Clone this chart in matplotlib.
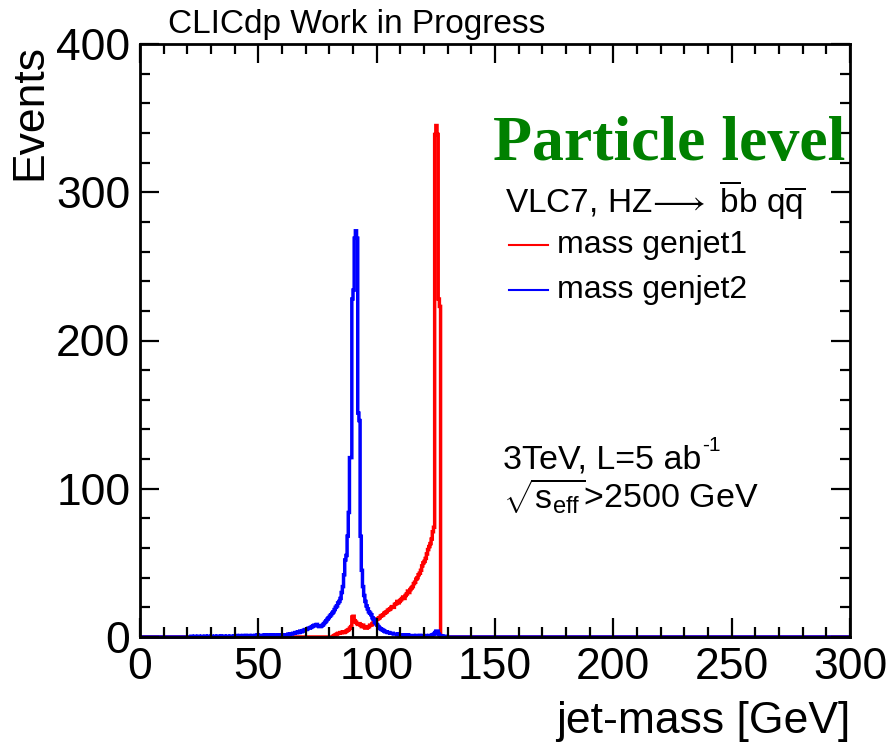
import numpy as np
import matplotlib
matplotlib.use("Agg")
import matplotlib.pyplot as plt
from matplotlib.ticker import MultipleLocator

plt.rcParams["font.family"] = ["Liberation Sans", "DejaVu Sans"]
plt.rcParams["mathtext.fontset"] = "custom"
plt.rcParams["mathtext.rm"] = "Liberation Sans"
plt.rcParams["mathtext.it"] = "Liberation Sans:italic"

# histogram binning: 0.5 GeV bins from 0 to 300 GeV
bin_width = 0.5
x_min, x_max = 0, 300

# mass genjet2 (blue), bins starting at 20 GeV
blue_start = 20.0
blue_counts = [
    0, 0, 0, 0.5, 0, 0, 0.5, 0, 0, 0.5, 0, 0, 0.5, 0, 0, 0.5, 0, 0.5, 0, 0,
    0.5, 0, 0, 0.5, 0, 0.5, 0.5, 0, 0.5, 0, 0.5, 0.5, 0, 0.5, 0.5, 0, 0.5, 0.5, 0, 0.5,
    0.5, 1, 0.5, 0.5, 1, 0.5, 0.5, 1, 0.5, 1, 0.5, 1, 1, 0.5, 1, 1, 0.5, 1, 1, 1.5,
    1, 1, 0.5, 1, 1, 1.5, 1, 1, 1.5, 1, 1, 1.5, 1, 1, 1.5, 1, 1, 1.5, 1, 1,
    1, 1, 1.5, 1, 1.5, 2, 1.5, 2, 2, 2.5,
    2.5, 3, 3, 3.5, 3, 4, 3.5, 4, 4.5, 5,
    5, 5.5, 6, 6, 6.5, 7, 7.5, 8, 8, 8.5,
    7.5, 7, 7, 7.5, 8, 9, 10, 11, 12, 13,
    14, 15, 16, 17, 18.5, 20, 21, 23, 24, 26,
    30, 34, 42, 52, 55, 68, 84, 121, 121, 228,
    234, 269, 274, 269, 151, 146, 68, 45, 34, 28,
    24, 21, 19, 17, 16, 15, 13, 12, 10, 9,
    8, 7, 6, 5.5, 5, 4.5, 4, 3.5, 3.5, 3,
    3, 2.5, 2.5, 2.5, 2, 2, 2, 1.5, 2, 1.5,
    1.5, 1.5, 1, 1.5, 1, 1, 1.5, 1, 1, 1,
    1, 1, 0.5, 1, 1, 0.5, 1, 0.5, 1, 0.5,
    0.5, 1, 0.5, 0.5, 1, 0.5, 1, 1.5, 2, 3,
    4, 4, 2, 1, 0.5, 0.5, 0, 0.5, 0, 0,
]

# mass genjet1 (red), bins starting at 80 GeV
red_start = 80.0
red_counts = [
    0, 0, 0, 0.5, 1, 1.5, 2, 2.5, 2.5, 3,
    3, 3.5, 3, 3.5, 4, 4.5, 5, 6, 7, 13.5,
    14, 11, 10, 9, 8.5, 9, 8, 7, 8, 7,
    6, 6, 6.5, 7, 8, 8, 9, 10, 11, 11.5,
    12, 12.5, 13, 14, 14.5, 15, 16, 16.5, 17, 18,
    18.5, 19, 20, 20.5, 20, 22, 22.5, 24, 23, 24,
    25, 26, 27, 26, 28, 29, 31, 30, 32, 33,
    34, 36, 37, 39, 40, 42, 43, 45, 48, 50,
    51, 53, 56, 59, 61, 63, 66, 71, 74, 339,
    345, 339, 228, 223, 0, 0,
]

n_bins = int((x_max - x_min) / bin_width)
edges = np.linspace(x_min, x_max, n_bins + 1)


def full_hist(start, counts):
    h = np.zeros(n_bins)
    i0 = int((start - x_min) / bin_width)
    h[i0:i0 + len(counts)] = counts
    return h


red = full_hist(red_start, red_counts)
blue = full_hist(blue_start, blue_counts)

W, H = 890, 746
fig = plt.figure(figsize=(W / 100, H / 100), dpi=100)
ax = fig.add_axes([140 / W, 1 - 637 / H, 710 / W, 593 / H])

ax.stairs(red, edges, color="#ff0000", linewidth=2.5, baseline=0, clip_on=False)
ax.stairs(blue, edges, color="#0000ff", linewidth=2.5, baseline=0, clip_on=False)

ax.set_xlim(x_min, x_max)
ax.set_ylim(0, 400)
ax.xaxis.set_major_locator(MultipleLocator(50))
ax.xaxis.set_minor_locator(MultipleLocator(10))
ax.yaxis.set_major_locator(MultipleLocator(100))
ax.yaxis.set_minor_locator(MultipleLocator(20))
ax.tick_params(which="both", direction="in", top=True, right=True, width=1.6,
               labelsize=32, colors="black")
ax.tick_params(which="major", length=14)
ax.tick_params(which="minor", length=7)
ax.tick_params(axis="x", pad=7)
ax.tick_params(axis="y", pad=7)
for s in ax.spines.values():
    s.set_linewidth(2)

fig.text(168 / W, 1 - 33 / H, "CLICdp Work in Progress", fontsize=24,
         ha="left", va="baseline")
fig.text(30 / W, 1 - 44 / H, "Events", fontsize=32, rotation=90,
         ha="center", va="top")
fig.text(850 / W, 1 - 733 / H, "jet-mass [GeV]", fontsize=32,
         ha="right", va="baseline")

fig.text(493 / W, 1 - 160 / H, "Particle level", fontsize=46,
         family=["Liberation Serif"], weight="bold", color="#008000",
         ha="left", va="baseline")
fig.text(505 / W, 1 - 200 / H,
         r"VLC7, HZ$\!\longrightarrow$ $\overline{\rm b}$b q$\overline{\rm q}$",
         fontsize=24, ha="left", va="center")

leg_x0, leg_x1 = 509 / W, 548 / W
fig.add_artist(plt.Line2D([leg_x0, leg_x1], [1 - 245 / H] * 2, color="#ff0000", lw=1.5))
fig.add_artist(plt.Line2D([leg_x0, leg_x1], [1 - 290 / H] * 2, color="#0000ff", lw=1.5))
fig.text(557 / W, 1 - 245 / H, "mass genjet1", fontsize=23, ha="left", va="center")
fig.text(557 / W, 1 - 290 / H, "mass genjet2", fontsize=23, ha="left", va="center")

lumi = fig.text(503 / W, 1 - 460 / H, "3TeV, L=5 ab", fontsize=24.5,
                ha="left", va="center")
renderer = fig.canvas.get_renderer()
bb = lumi.get_window_extent(renderer)
fig.text((bb.x1 + 1) / W, 1 - 446 / H, "-1", fontsize=15,
         ha="left", va="center")
fig.text(503 / W, 1 - 497 / H, r"$\sqrt{\rm s_{eff}}$>2500 GeV", fontsize=24.5,
         ha="left", va="center")

fig.savefig("out.png", dpi=100)
